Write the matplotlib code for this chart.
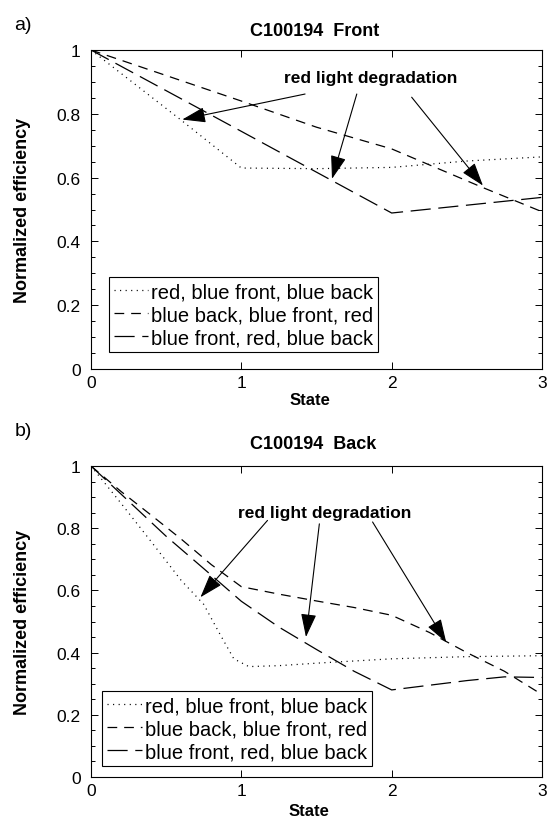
import matplotlib
matplotlib.use('Agg')
import matplotlib.pyplot as plt
from matplotlib.ticker import MultipleLocator

plt.rcParams['font.family'] = ['Liberation Sans', 'DejaVu Sans']
plt.rcParams['lines.scale_dashes'] = False

# ---------------- data ----------------
labels = ["red, blue front, blue back",
          "blue back, blue front, red",
          "blue front, red, blue back"]
state_ticks = [0, 1, 2, 3]
state_tick_labels = ['0', '1', '2', '3']
eff_ticks = [0, 0.2, 0.4, 0.6, 0.8, 1]
eff_tick_labels = ['0', '0.2', '0.4', '0.6', '0.8', '1']

# a) C100194 Front
front_dot_x = [0, 0.6, 1, 1.5, 2, 2.5, 3]
front_dot_y = [1, 0.78, 0.63, 0.628, 0.632, 0.652, 0.665]
front_sdash_x = [0, 1, 1.5, 2, 2.6, 3]
front_sdash_y = [1, 0.84, 0.758, 0.69, 0.57, 0.493]
front_ldash_x = [0, 1, 2, 3]
front_ldash_y = [1, 0.745, 0.489, 0.538]

# b) C100194 Back
back_dot_x = [0, 0.2, 0.4, 0.6, 0.75, 0.85, 0.95, 1.05, 1.25, 1.5, 2, 2.5, 3]
back_dot_y = [1, 0.88, 0.757, 0.632, 0.555, 0.466, 0.38, 0.355, 0.358, 0.366, 0.38, 0.387, 0.39]
back_sdash_x = [0, 0.2, 0.4, 0.6, 0.8, 1.0, 1.25, 1.5, 1.75, 2.0, 2.25, 2.5, 2.75, 3.0]
back_sdash_y = [1, 0.918, 0.842, 0.765, 0.683, 0.612, 0.588, 0.566, 0.545, 0.52, 0.465, 0.40, 0.34, 0.265]
back_ldash_x = [0, 0.5, 0.75, 1.0, 1.25, 1.5, 1.75, 2.0, 2.25, 2.5, 2.75, 3.0]
back_ldash_y = [1, 0.774, 0.67, 0.565, 0.482, 0.41, 0.34, 0.28, 0.295, 0.31, 0.322, 0.32]

annot_text = "red light degradation"
front_text_xy = (1.863, 0.915)
front_arrow_starts = [(1.424, 0.862), (1.768, 0.862), (2.133, 0.852)]
front_arrow_tips = [(0.607, 0.782), (1.603, 0.596), (2.607, 0.575)]
back_text_xy = (1.557, 0.852)
back_arrow_starts = [(1.174, 0.825), (1.519, 0.814), (1.873, 0.82)]
back_arrow_tips = [(0.728, 0.578), (1.43, 0.45), (2.363, 0.433)]

# ---------------- styles ----------------
styles = [dict(linestyle=(0, (0.8, 3.2)), lw=0.9),
          dict(linestyle=(0, (7.0, 5.0)), lw=0.9),
          dict(linestyle=(0, (14.5, 5.5)), lw=0.9)]

fig = plt.figure(figsize=(5.47, 8.2), dpi=100)
axA = fig.add_axes([91/547, 1-370/820, 451/547, 319/820])
axB = fig.add_axes([91/547, 1-778/820, 451/547, 311/820])


def setup(ax, series, text_xy, starts, tips, leg_anchor):
    for (x, y), st, lab in zip(series, styles, labels):
        ax.plot(x, y, color='black', label=lab, **st)
    ax.set_xlim(0, 3)
    ax.set_ylim(0, 1)
    ax.set_xticks(state_ticks)
    ax.set_xticklabels(state_tick_labels)
    ax.set_yticks(eff_ticks)
    ax.set_yticklabels(eff_tick_labels)
    ax.yaxis.set_minor_locator(MultipleLocator(0.05))
    ax.tick_params(axis='both', which='both', direction='in', top=True, right=True,
                   labelsize=12.5, width=0.7)
    ax.tick_params(axis='both', which='major', length=5)
    ax.tick_params(axis='both', which='minor', length=3)
    ax.tick_params(axis='y', pad=7.5)
    ax.tick_params(axis='x', pad=4)
    for s in ax.spines.values():
        s.set_linewidth(0.8)
    ax.set_ylabel('Normalized efficiency', fontsize=13, fontweight='bold')
    ax.yaxis.set_label_coords(-0.133, 0.5)
    ax.set_xlabel('State', fontsize=12, fontweight='bold')
    ax.text(text_xy[0], text_xy[1], annot_text, fontsize=12.5, fontweight='bold',
            ha='center', va='center')
    for s, t in zip(starts, tips):
        ax.annotate('', xy=t, xytext=s,
                    arrowprops=dict(arrowstyle='-|>,head_length=1.45,head_width=0.48',
                                    mutation_scale=10, color='black', lw=0.8,
                                    shrinkA=0, shrinkB=0))
    leg = ax.legend(loc='lower left', bbox_to_anchor=leg_anchor, borderaxespad=0,
                    fontsize=14.5, frameon=True, fancybox=False, edgecolor='black',
                    framealpha=1, borderpad=0.25, labelspacing=0.2,
                    handlelength=1.7, handletextpad=0.15)
    leg.get_frame().set_linewidth(0.8)


setup(axA, [(front_dot_x, front_dot_y), (front_sdash_x, front_sdash_y),
            (front_ldash_x, front_ldash_y)],
      front_text_xy, front_arrow_starts, front_arrow_tips, (0.04, 0.053))
axA.xaxis.set_label_coords(0.485, -0.097)
axA.xaxis.label.set_va('center')

setup(axB, [(back_dot_x, back_dot_y), (back_sdash_x, back_sdash_y),
            (back_ldash_x, back_ldash_y)],
      back_text_xy, back_arrow_starts, back_arrow_tips, (0.025, 0.034))
axB.xaxis.set_label_coords(0.483, -0.108)
axB.xaxis.label.set_va('center')

fig.text(315/547, 1-31/820, 'C100194  Front', fontsize=13, fontweight='bold',
         ha='center', va='center')
fig.text(313/547, 1-445/820, 'C100194  Back', fontsize=13, fontweight='bold',
         ha='center', va='center')
fig.text(23/547, 1-25/820, 'a)', fontsize=14, ha='center', va='center')
fig.text(23/547, 1-432/820, 'b)', fontsize=14, ha='center', va='center')

fig.savefig('out.png', dpi=100)
